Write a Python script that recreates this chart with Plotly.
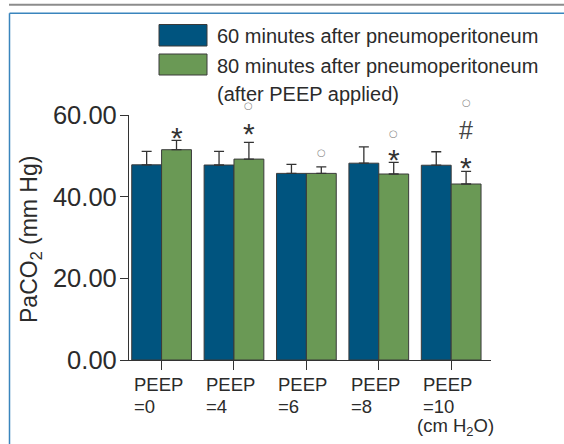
import plotly.graph_objects as go

# ---------------- data ----------------
categories = ["PEEP=0", "PEEP=4", "PEEP=6", "PEEP=8", "PEEP=10"]
tick_line1 = ["PEEP", "PEEP", "PEEP", "PEEP", "PEEP"]
tick_line2 = ["=0", "=4", "=6", "=8", "=10"]
unit_label = "(cm H<sub>2</sub>O)"

series1_name = "60 minutes after pneumoperitoneum"
series1_vals = [47.8, 47.75, 45.7, 48.2, 47.7]
series1_err = [3.3, 3.35, 2.2, 4.0, 3.3]

series2_name = "80 minutes after pneumoperitoneum"
series2_name_extra = "(after PEEP applied)"
series2_vals = [51.5, 49.2, 45.7, 45.55, 43.1]
series2_err = [2.3, 4.1, 1.6, 2.85, 3.1]

# significance marks above the green bars (bottom to top)
sig_symbols = [["*"], ["*", "○"], ["○"], ["*", "○"], ["*", "#", "○"]]

y_ticks = [0, 20, 40, 60]
y_title = "PaCO<sub>2</sub> (mm Hg)"

# ---------------- style ----------------
W, H = 564, 444
ML, MR, MT, MB = 129, 73, 115, 84
PW, PH = W - ML - MR, H - MT - MB
FONT = "Liberation Sans, Arial, sans-serif"
TXT = "#2b2b2b"
BLUE = "#00547f"
GREEN = "#6a9955"
EDGE = "#3a3a3a"
AXC = "#333333"
BARGAP = 0.175
# pixel offsets of stacked sig marks above error bar top
sig_offsets = [[12], [18, 37], [14], [12, 29], [13, 41, 69]]
sig_sizes = {"*": 30, "#": 25, "○": 10}
sig_fonts = {"*": FONT, "#": FONT, "○": "DejaVu Sans"}
sig_colors = {"*": "#333333", "#": "#444444", "○": "#8a8a8a"}
sig_yfix = {"*": -9, "#": 0, "○": 0}


def px(x):
    return (x - ML) / PW


def py(y):
    return (H - MB - y) / PH


fig = go.Figure()
fig.add_trace(go.Bar(
    x=categories, y=series1_vals, name=series1_name,
    marker=dict(color=BLUE, line=dict(color=EDGE, width=1)),
    error_y=dict(type="data", array=series1_err, arrayminus=[0] * 5,
                 symmetric=False, color=AXC, thickness=1.3, width=5),
    showlegend=False,
))
fig.add_trace(go.Bar(
    x=categories, y=series2_vals, name=series2_name,
    marker=dict(color=GREEN, line=dict(color=EDGE, width=1)),
    error_y=dict(type="data", array=series2_err, arrayminus=[0] * 5,
                 symmetric=False, color=AXC, thickness=1.3, width=5),
    showlegend=False,
))

ann = []
bar_px = (1 - BARGAP) * (PW / 5.0) / 2.0
# significance marks
for i, cat in enumerate(categories):
    top = series2_vals[i] + series2_err[i]
    for sym, off in zip(sig_symbols[i], sig_offsets[i]):
        ann.append(dict(x=cat, y=top, xref="x", yref="y", text=sym,
                        showarrow=False, xanchor="center", yanchor="middle",
                        xshift=bar_px / 2, yshift=off + sig_yfix[sym],
                        font=dict(family=sig_fonts[sym], size=sig_sizes[sym],
                                  color=sig_colors[sym])))

# x tick labels
for i, cat in enumerate(categories):
    ann.append(dict(x=cat, y=py(372), xref="x", yref="paper", text=tick_line1[i],
                    showarrow=False, xanchor="left", yanchor="top", xshift=-30,
                    font=dict(family=FONT, size=18.5, color=TXT)))
    ann.append(dict(x=cat, y=py(394), xref="x", yref="paper", text=tick_line2[i],
                    showarrow=False, xanchor="left", yanchor="top", xshift=-30,
                    font=dict(family=FONT, size=18.5, color=TXT)))
ann.append(dict(x=categories[-1], y=py(413), xref="x", yref="paper", text=unit_label,
                showarrow=False, xanchor="center", yanchor="top", xshift=4,
                font=dict(family=FONT, size=18.5, color=TXT)))

# y title
ann.append(dict(x=px(30), y=py(239), xref="paper", yref="paper", text=y_title,
                showarrow=False, textangle=-90, xanchor="center", yanchor="middle",
                font=dict(family=FONT, size=23, color=TXT)))

# legend (manual)
shapes = []
leg_rows = [(24.5, 46, BLUE), (54, 75, GREEN)]
for (y0, y1, c) in leg_rows:
    shapes.append(dict(type="rect", xref="paper", yref="paper",
                       x0=px(159), x1=px(207), y0=py(y1), y1=py(y0),
                       fillcolor=c, line=dict(color=EDGE, width=1)))
for txt, yc in [(series1_name, 36), (series2_name, 66), (series2_name_extra, 94)]:
    ann.append(dict(x=px(215), y=py(yc), xref="paper", yref="paper", text=txt,
                    showarrow=False, xanchor="left", yanchor="middle",
                    font=dict(family=FONT, size=20, color=TXT)))

# decoration: top grey rule and blue frame
shapes.append(dict(type="line", xref="paper", yref="paper",
                   x0=px(9), x1=px(W + 5), y0=py(4.7), y1=py(4.7),
                   line=dict(color="#8c8c8c", width=2)))
shapes.append(dict(type="line", xref="paper", yref="paper",
                   x0=px(9.5), x1=px(W + 5), y0=py(13.2), y1=py(13.2),
                   line=dict(color="#3a85bd", width=1.5)))
shapes.append(dict(type="line", xref="paper", yref="paper",
                   x0=px(9.5), x1=px(9.5), y0=py(13.2), y1=py(H + 5),
                   line=dict(color="#3a85bd", width=1.5)))

fig.update_layout(
    width=W, height=H,
    margin=dict(l=ML, r=MR, t=MT, b=MB, pad=0),
    paper_bgcolor="white", plot_bgcolor="white",
    barmode="group", bargap=BARGAP, bargroupgap=0,
    showlegend=False,
    annotations=ann, shapes=shapes,
    font=dict(family=FONT, color=TXT),
    xaxis=dict(type="category", range=[-0.45, 4.55], showline=True,
               linecolor=AXC, linewidth=1.3, ticks="outside", ticklen=9,
               tickwidth=1.3, tickcolor=AXC, showticklabels=False,
               showgrid=False, zeroline=False),
    yaxis=dict(range=[0, 60], tickvals=y_ticks, tickformat=".2f",
               showline=True, linecolor=AXC, linewidth=1.3, ticks="outside",
               ticklen=8, tickwidth=1.3, tickcolor=AXC, showgrid=False,
               zeroline=False, ticklabelstandoff=-2,
               tickfont=dict(family=FONT, size=25.5, color=TXT)),
)

fig.write_html("out.html")
